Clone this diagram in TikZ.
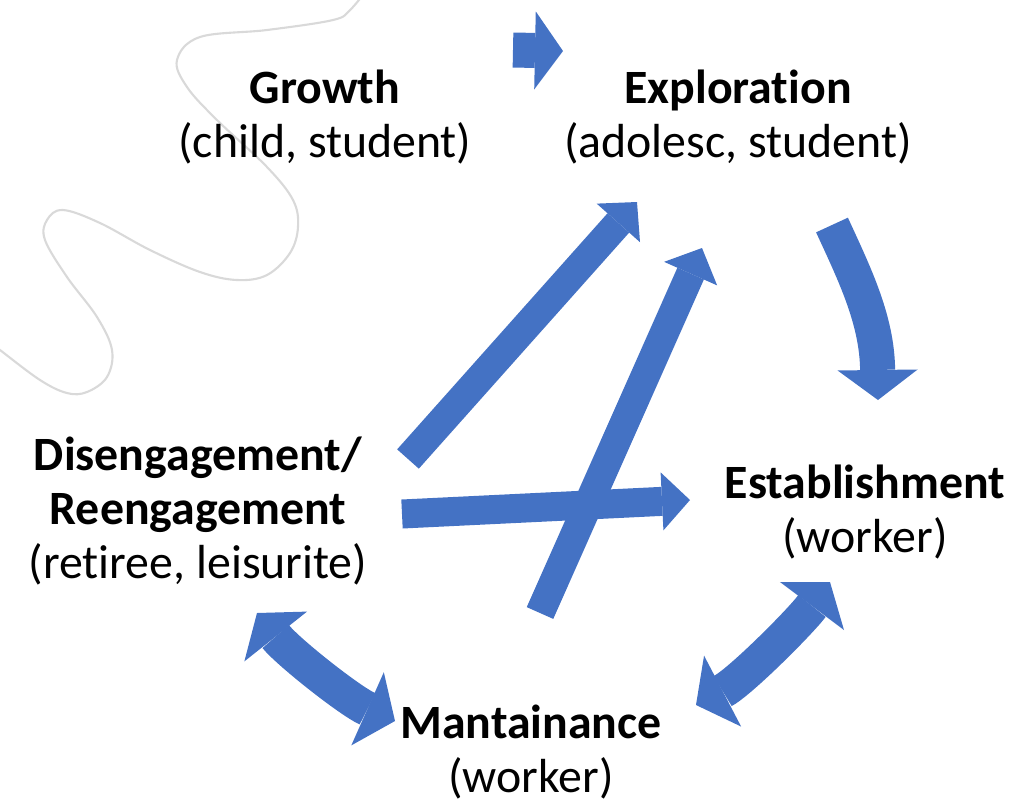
\documentclass[tikz,border=0pt]{standalone}
\usepackage{fontspec}
\setmainfont[Ligatures=NoCommon]{Carlito}
\usetikzlibrary{arrows.meta}
\definecolor{stageblue}{HTML}{4472C4}
\tikzset{
  stage/.style={align=center, inner sep=0pt, anchor=base, font=\fontsize{13.6}{15.3}\selectfont},
  flow/.style={draw=stageblue, line width=0.29cm, >={Triangle[length=0.28cm,width=0.58cm,line width=0pt]}, ->},
  cycle/.style={draw=stageblue, line width=0.35cm, >={Triangle[length=0.3cm,width=0.8cm,line width=0pt]}}
}
\begin{document}
\begin{tikzpicture}[x=0.01cm,y=-0.01cm]
\useasboundingbox (0,0) rectangle (1014,802);
% grey squiggle in the corner
\draw[gray!30, line width=0.6pt] plot[smooth, tension=0.6] coordinates {(365,-8) (350,10) (333,20) (267,30) (200,37) (177,60) (187,87) (217,120) (267,167) (293,200) (298,227) (290,253) (267,275) (237,280) (200,272) (150,250) (100,223) (63,210) (47,220) (45,240) (67,277) (97,317) (112,350) (107,377) (87,392) (67,393) (40,380) (0,350) (-10,342)};
% the stages (base = last line)
\node[stage] (growth) at (325,157) {\textbf{Growth}\\(child, student)};
\node[stage] (explor) at (738,157) {\textbf{Exploration}\\(adolesc, student)};
\node[stage] (disen) at (198,578) {\textbf{Disengagement/}\\\textbf{Reengagement}\\(retiree, leisurite)};
\node[stage] (estab) at (865,552) {\textbf{Establishment}\\(worker)};
\node[stage] (maint) at (531,792) {\textbf{Mantainance}\\(worker)};
% arrow ends
\foreach \n/\x/\y in {gr-out/513/50, ex-in/563/51, di-up/408/459, ex-in1/637/202,
  di-right/402/514, es-in/690/500, ma-up/540/613, ex-in2/702/248,
  ex-out/832/225, es-top/878/400, es-low/830/582, ma-right/696/705,
  ma-left/395/721, di-low/257/613}
  \coordinate (\n) at (\x,\y);
\draw[flow, line width=0.35cm, >={Triangle[length=0.28cm,width=0.78cm,line width=0pt]}] (gr-out) -- (ex-in);
\foreach \a/\b in {di-up/ex-in1, di-right/es-in, ma-up/ex-in2}
  \draw[flow] (\a) -- (\b);
\draw[cycle, ->] (ex-out) .. controls (855,275) and (877,320) .. (es-top);
\draw[cycle, <->] (es-low) .. controls (800,622) and (740,682) .. (ma-right);
\draw[cycle, <->] (ma-left) .. controls (350,701) and (288,652) .. (di-low);
\end{tikzpicture}
\end{document}
